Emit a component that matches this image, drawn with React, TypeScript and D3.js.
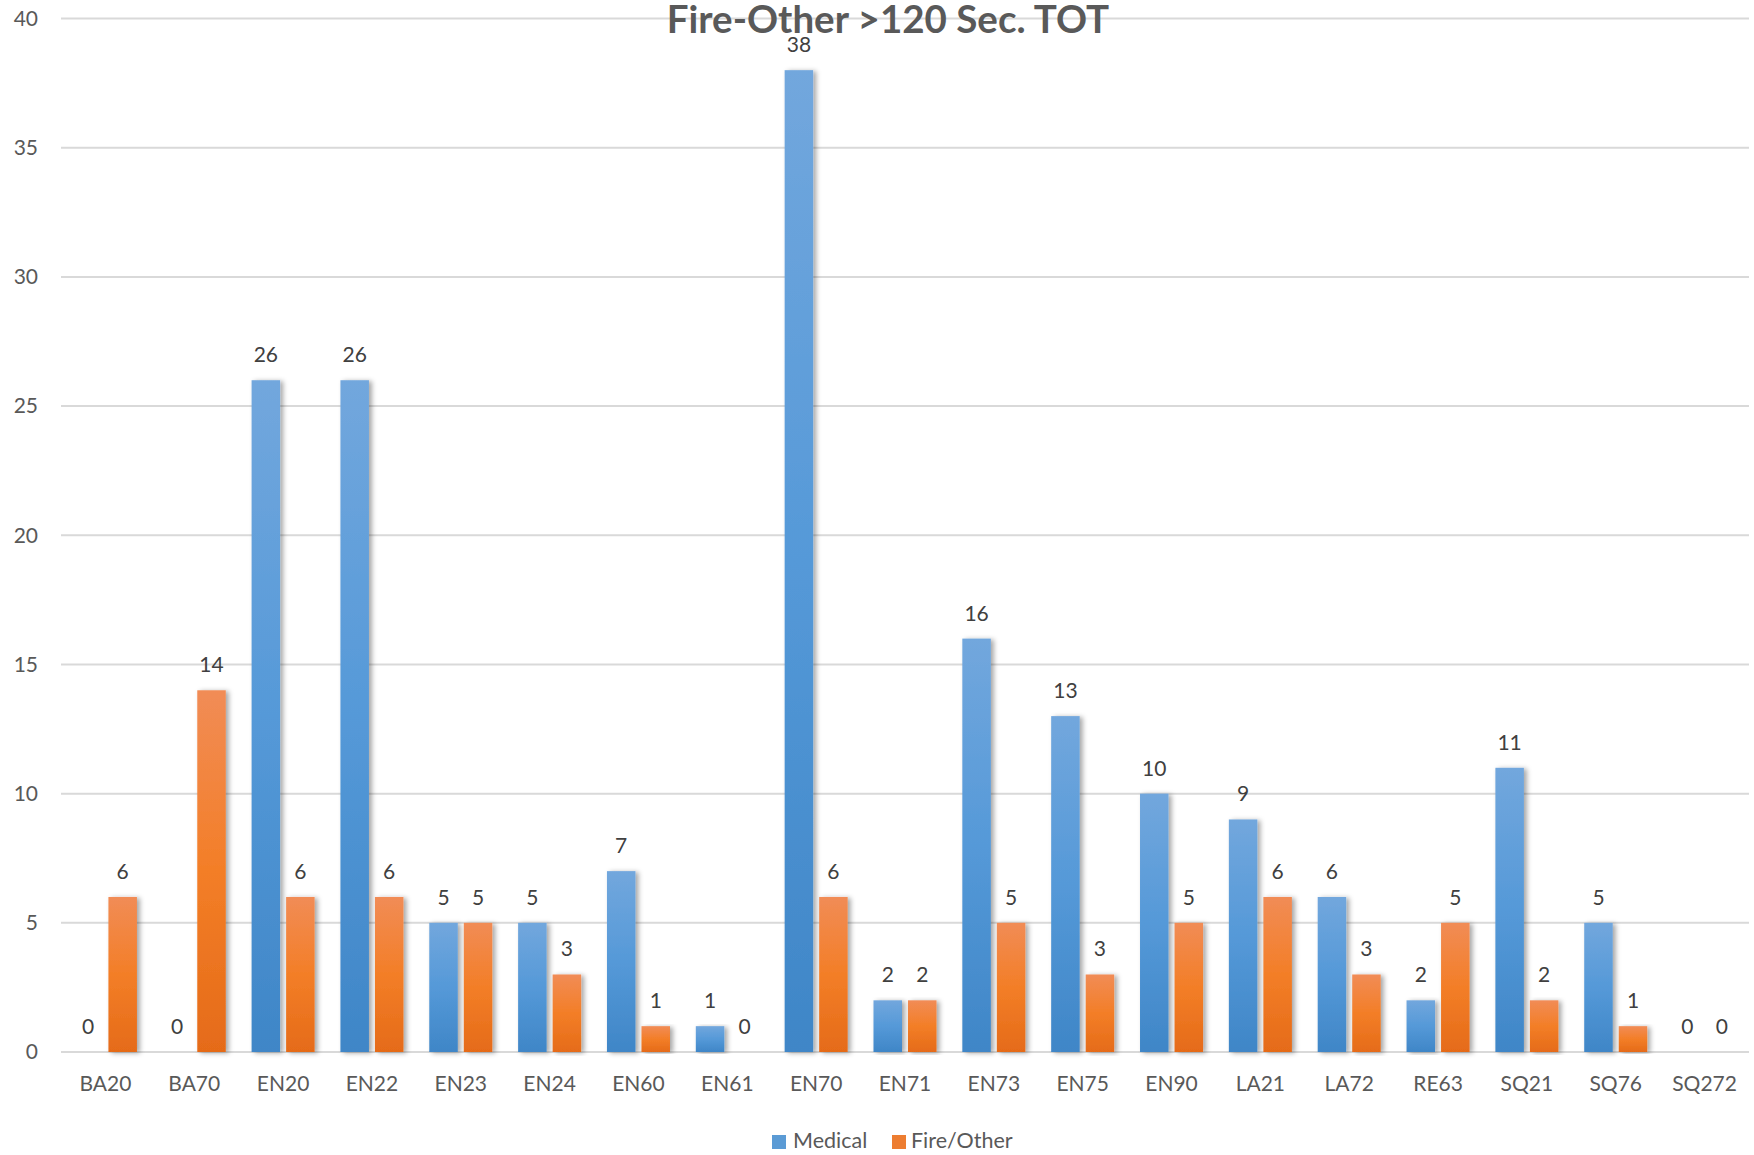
import React from "react";
import * as d3 from "d3";

const categories = ["BA20","BA70","EN20","EN22","EN23","EN24","EN60","EN61","EN70","EN71","EN73","EN75","EN90","LA21","LA72","RE63","SQ21","SQ76","SQ272"];
const medical = [0,0,26,26,5,5,7,1,38,2,16,13,10,9,6,2,11,5,0];
const fireOther = [6,14,6,6,5,3,1,0,6,2,5,3,5,6,3,5,2,1,0];
const seriesNames = ["Medical","Fire/Other"];
const yTicks = [0,5,10,15,20,25,30,35,40];
const title = "Fire-Other >120 Sec. TOT";

const W = 1754, H = 1155;
const FONT = "Lato, 'Open Sans', sans-serif";

export default function App() {
  const x = d3.scaleBand<string>().domain(categories).range([61, 1749]).paddingInner(0).paddingOuter(0);
  const xs = d3.scaleBand<string>().domain(seriesNames).range([0, x.bandwidth()]).paddingInner(0.174).paddingOuter(0.374);
  const y = d3.scaleLinear().domain([0, 40]).range([1052, 18.5]);
  const series = [medical, fireOther];
  const grads = ["gBlue", "gOrange"];

  return (
    <svg width={W} height={H} style={{ position: "absolute", left: 0, top: 0, background: "#fff" }} fontFamily={FONT}>
      <defs>
        <linearGradient id="gBlue" x1="0" y1="0" x2="0" y2="1">
          <stop offset="0%" stopColor="#72a7dd" />
          <stop offset="50%" stopColor="#5599d8" />
          <stop offset="100%" stopColor="#3f86c7" />
        </linearGradient>
        <linearGradient id="gOrange" x1="0" y1="0" x2="0" y2="1">
          <stop offset="0%" stopColor="#f18c56" />
          <stop offset="50%" stopColor="#f37e27" />
          <stop offset="100%" stopColor="#e56b19" />
        </linearGradient>
        <filter id="shadow" x="-30%" y="-5%" width="160%" height="110%">
          <feDropShadow dx="3" dy="1" stdDeviation="2.5" floodColor="#000" floodOpacity="0.35" />
        </filter>
      </defs>
      <rect x={0} y={0} width={W} height={H} fill="#fff" />
      {yTicks.map(t => (
        <g key={t}>
          <line x1={61} x2={1749} y1={y(t)} y2={y(t)} stroke="#d9d9d9" strokeWidth={2} />
          <text x={38} y={y(t)} dy="0.35em" textAnchor="end" fontSize={21} fill="#595959">{t}</text>
        </g>
      ))}
      {series.map((vals, si) => (
        <g key={si}>
          {vals.map((v, i) => {
            const bx = (x(categories[i]) ?? 0) + (xs(seriesNames[si]) ?? 0);
            const bw = xs.bandwidth();
            const top = y(v);
            return (
              <g key={i}>
                {v > 0 && (
                  <rect x={bx} y={top} width={bw} height={y(0) - top} fill={`url(#${grads[si]})`} filter="url(#shadow)" />
                )}
                <text x={bx + bw / 2} y={top - 18} textAnchor="middle" fontSize={21} fill="#404040">{v}</text>
              </g>
            );
          })}
        </g>
      ))}
      {categories.map(c => (
        <text key={c} x={(x(c) ?? 0) + x.bandwidth() / 2} y={1091} textAnchor="middle" fontSize={21} fill="#595959">{c}</text>
      ))}
      <text x={888} y={33} textAnchor="middle" fontSize={38.5} fontWeight="bold" fill="#595959">{title}</text>
      <g>
        <rect x={772} y={1135} width={14} height={14} fill="#5b9bd5" />
        <text x={793} y={1148} fontSize={21.5} fill="#595959">{seriesNames[0]}</text>
        <rect x={892} y={1135} width={14} height={14} fill="#ed7d31" />
        <text x={911} y={1148} fontSize={21.5} fill="#595959">{seriesNames[1]}</text>
      </g>
    </svg>
  );
}
